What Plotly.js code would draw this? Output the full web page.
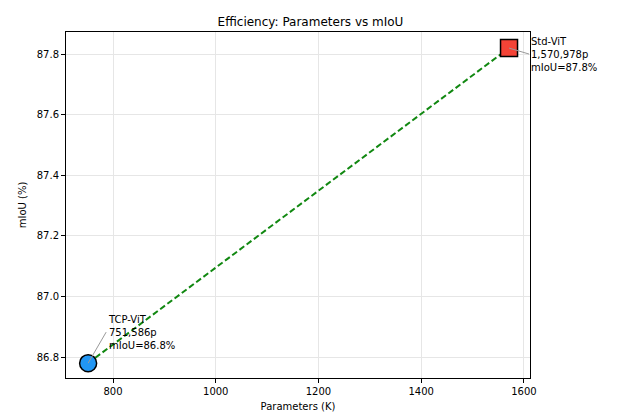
<!DOCTYPE html>
<html>
<head>
<meta charset="utf-8">
<script src="https://cdn.plot.ly/plotly-3.0.1.min.js"></script>
<style>body{margin:0;background:#fff}</style>
</head>
<body>
<div id="graph" style="width:621px;height:414px"></div>
<script>
// efficiency chart: parameter count vs mIoU
var models = ['TCP-ViT', 'Std-ViT'];
var paramsK = [751.586, 1570.978];
var paramsLabel = ['751,586p', '1,570,978p'];
var miou = [86.78, 87.82];
var colors = ['#2196F3', '#F44336'];
var symbols = ['circle', 'square'];

var data = [];

// dashed link between the two models
data.push({
    x: paramsK,
    y: miou,
    mode: 'lines',
    line: {color: '#118811', width: 2, dash: '6px,3px'},
    hoverinfo: 'skip'
});

for (var i = 0; i < models.length; i++) {
    data.push({
        x: [paramsK[i]],
        y: [miou[i]],
        mode: 'markers',
        name: models[i],
        marker: {
            color: colors[i],
            symbol: symbols[i],
            size: 17,
            line: {color: '#000', width: 1.5}
        }
    });
}

var offsets = [[18, -31], [20, 6]];
var annotations = [];
for (i = 0; i < models.length; i++) {
    annotations.push({
        x: paramsK[i],
        y: miou[i],
        text: models[i] + '<br>' + paramsLabel[i] + '<br>mIoU=' + miou[i].toFixed(1) + '%',
        showarrow: true,
        arrowhead: 0,
        arrowwidth: 1,
        arrowcolor: '#999',
        ax: offsets[i][0],
        ay: offsets[i][1],
        xanchor: 'left',
        yanchor: 'middle',
        align: 'left',
        font: {size: 10, color: '#000'}
    });
}

var axisStyle = {
    showline: true,
    linecolor: '#000',
    linewidth: 1,
    mirror: true,
    ticks: 'outside',
    ticklen: 4,
    tickcolor: '#000',
    gridcolor: '#e6e6e6',
    zeroline: false,
    tickfont: {size: 10, color: '#000'}
};

var layout = {
    width: 621,
    height: 414,
    font: {family: 'DejaVu Sans', color: '#000'},
    title: {text: 'Efficiency: Parameters vs mIoU', font: {size: 12}, x: 0.5, xanchor: 'center', y: 0.947, yanchor: 'middle'},
    showlegend: false,
    margin: {l: 66, r: 91, t: 32, b: 36},
    plot_bgcolor: '#fff',
    paper_bgcolor: '#fff',
    xaxis: Object.assign({}, axisStyle, {
        range: [708.5, 1611.8],
        tickvals: [800, 1000, 1200, 1400, 1600],
        title: {text: 'Parameters (K)', font: {size: 10}, standoff: 6}
    }),
    yaxis: Object.assign({}, axisStyle, {
        range: [86.731, 87.873],
        tickvals: [86.8, 87.0, 87.2, 87.4, 87.6, 87.8],
        tickformat: '.1f',
        title: {text: 'mIoU (%)', font: {size: 10}, standoff: 8}
    }),
    annotations: annotations
};

Plotly.newPlot('graph', data, layout, {displayModeBar: false});
</script>
</body>
</html>
